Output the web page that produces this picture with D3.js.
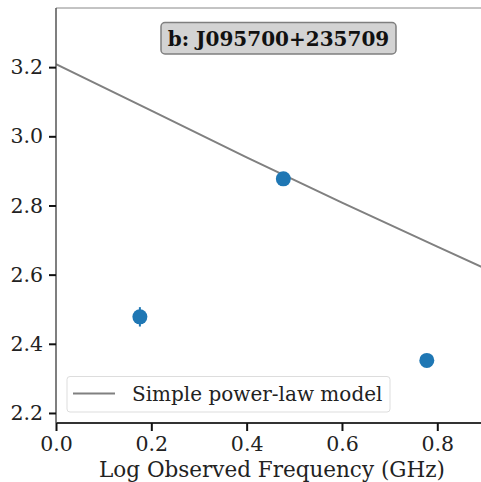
<!DOCTYPE html>
<html>
<head>
<meta charset="utf-8">
<script src="https://cdn.jsdelivr.net/npm/d3@7"></script>
<style>
  body { margin: 0; background: #fff; }
  svg { display: block; font-family: "DejaVu Serif", serif; }
</style>
</head>
<body>
<div id="chart"></div>
<script>
// observed points
const logFreq = [0.176, 0.477, 0.778]
const logFlux = [2.478, 2.877, 2.352]
const fluxErr = [0.028, 0.008, 0.008]

// simple power-law model curve samples
const modelX = [0, 0.2, 0.4, 0.6, 0.8, 0.9]
const modelY = [3.209, 3.074, 2.939, 2.808, 2.681, 2.618]

const xTicks = [0, 0.2, 0.4, 0.6, 0.8]
const yTicks = [2.2, 2.4, 2.6, 2.8, 3.0, 3.2]

const title = "b: J095700+235709"
const xLabel = "Log Observed Frequency (GHz)"
const legendLabel = "Simple power-law model"

const width = 481, height = 482
const marginLeft = 56, marginTop = 8, marginBottom = 59

const svg = d3.select("#chart").append("svg")
  .attr("width", width)
  .attr("height", height)

const x = d3.scaleLinear().domain([0, 0.8917]).range([marginLeft, width])
const y = d3.scaleLinear().domain([2.171, 3.371]).range([height - marginBottom, marginTop])

svg.append("clipPath").attr("id", "plot-clip")
  .append("rect")
  .attr("x", marginLeft).attr("y", marginTop)
  .attr("width", width - marginLeft).attr("height", height - marginBottom - marginTop)

// top spine
svg.append("line")
  .attr("x1", marginLeft).attr("x2", width)
  .attr("y1", marginTop).attr("y2", marginTop)
  .attr("stroke", "#888").attr("stroke-width", 1)

// model line
const line = d3.line().x((d, i) => x(modelX[i])).y(d => y(d))
svg.append("path")
  .attr("clip-path", "url(#plot-clip)")
  .attr("d", line(modelY))
  .attr("fill", "none")
  .attr("stroke", "#808080")
  .attr("stroke-width", 2)

// error bars + points
const pts = svg.append("g")
logFreq.forEach((f, i) => {
  pts.append("line")
    .attr("x1", x(f)).attr("x2", x(f))
    .attr("y1", y(logFlux[i] - fluxErr[i])).attr("y2", y(logFlux[i] + fluxErr[i]))
    .attr("stroke", "#1f77b4").attr("stroke-width", 2)
  pts.append("circle")
    .attr("cx", x(f)).attr("cy", y(logFlux[i]))
    .attr("r", 7.5)
    .attr("fill", "#1f77b4")
})

// axes
const xAxis = svg.append("g")
  .attr("transform", `translate(0,${height - marginBottom})`)
  .call(d3.axisBottom(x).tickValues(xTicks).tickFormat(d3.format(".1f")).tickSize(8).tickPadding(5))
const yAxis = svg.append("g")
  .attr("transform", `translate(${marginLeft},0)`)
  .call(d3.axisLeft(y).tickValues(yTicks).tickFormat(d3.format(".1f")).tickSize(7).tickPadding(6))

xAxis.select(".domain").attr("stroke", "#333").attr("stroke-width", 2)
  .attr("d", `M${marginLeft},0H${width}`)
yAxis.select(".domain").attr("stroke", "#555").attr("stroke-width", 1.5)
  .attr("d", `M0,${marginTop}V${height - marginBottom}`)
svg.selectAll(".tick line").attr("stroke", "#111").attr("stroke-width", 2)
svg.selectAll(".tick text")
  .attr("font-family", "DejaVu Serif, serif")
  .attr("font-size", 20.5)
  .attr("fill", "#222")

svg.append("text")
  .attr("x", 272).attr("y", 477)
  .attr("text-anchor", "middle")
  .attr("font-size", 21.5)
  .attr("fill", "#222")
  .text(xLabel)

// title box
const tg = svg.append("g")
tg.append("rect")
  .attr("x", 161).attr("y", 22.5)
  .attr("width", 235).attr("height", 31.5)
  .attr("rx", 4)
  .attr("fill", "#d3d3d3")
  .attr("stroke", "#7f7f7f")
  .attr("stroke-width", 1.5)
tg.append("text")
  .attr("x", 278.5).attr("y", 45.5)
  .attr("text-anchor", "middle")
  .attr("font-weight", "bold")
  .attr("font-size", 20)
  .attr("fill", "#111")
  .text(title)

// legend
const lg = svg.append("g")
lg.append("rect")
  .attr("x", 67).attr("y", 376.5)
  .attr("width", 323).attr("height", 35.5)
  .attr("rx", 3)
  .attr("fill", "#fff")
  .attr("fill-opacity", 0.8)
  .attr("stroke", "#ddd")
lg.append("line")
  .attr("x1", 73).attr("x2", 115)
  .attr("y1", 393.5).attr("y2", 393.5)
  .attr("stroke", "#808080").attr("stroke-width", 2)
lg.append("text")
  .attr("x", 132).attr("y", 400.5)
  .attr("font-size", 20)
  .attr("fill", "#222")
  .text(legendLabel)
</script>
</body>
</html>
